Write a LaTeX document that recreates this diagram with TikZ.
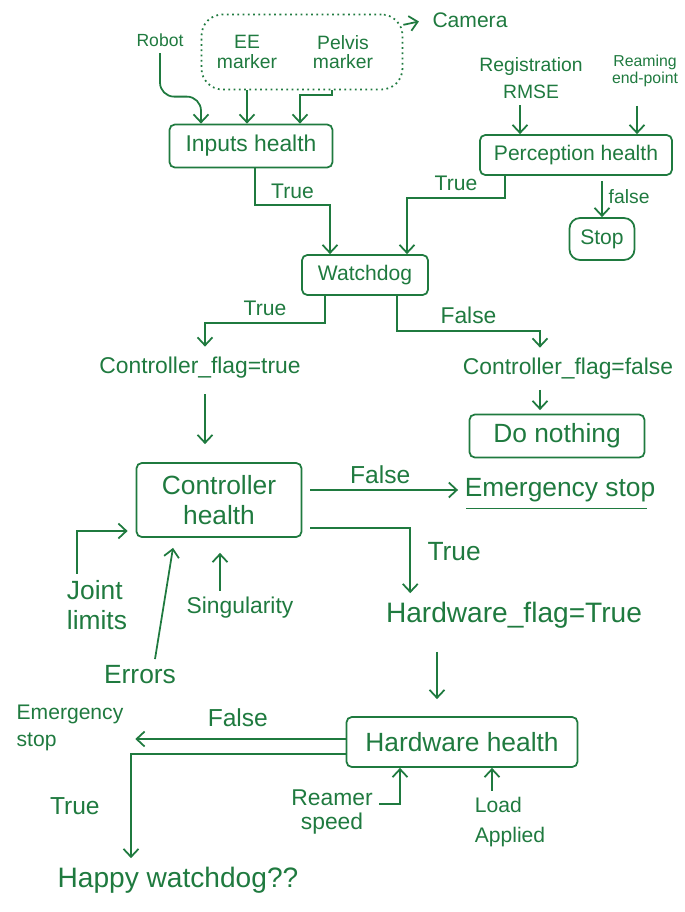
\documentclass[tikz,border=0pt]{standalone}
\usepackage{fontspec}
\setmainfont{Liberation Sans}
\usetikzlibrary{arrows.meta, positioning, calc}
\definecolor{inkgreen}{HTML}{1F7A3F}

\begin{document}
\begin{tikzpicture}[
      x=0.02cm, y=-0.02cm,
      color=inkgreen, line width=1pt,
      box/.style={draw, rounded corners=3pt, align=center},
      fs/.style 2 args={font=\fontsize{#1}{#2}\selectfont, align=center},
      >={Straight Barb[length=1.6mm, width=3mm]}
    ]
      \useasboundingbox (0,0) rectangle (685,912);

      % inputs
      \node[draw, dotted, rounded corners=12pt, minimum width=4.02cm,
        minimum height=1.5cm] (markers) at (302,52) {};
      \node[fs={11}{11}] (ee) at (247,52) {EE\\marker};
      \node[fs={11}{11}] (pelvis) at (343,52) {Pelvis\\marker};
      \node[fs={12}{14}] (camera) at (470,20) {Camera};
      \node[fs={10}{12}] (robot) at (160,40) {Robot};
      \node[box, fs={13}{15}, minimum width=3.26cm, minimum height=0.86cm]
        (inputs) at (251,146) {Inputs health};

      \node[fs={11}{15}] (regist) at (531,78) {Registration\\RMSE};
      \node[fs={9}{10}] (reaming) at (645,71) {Reaming\\end-point};
      \node[box, fs={12}{14}, minimum width=3.84cm, minimum height=0.8cm]
        (perception) at (576,155) {Perception health};
      \node[box, rounded corners=6pt, fs={12}{14}, minimum width=1.3cm,
        minimum height=0.84cm] (stop) at (602,239) {Stop};

      % watchdog
      \node[box, fs={12}{14}, minimum width=2.52cm, minimum height=0.8cm]
        (watchdog) at (365,275) {Watchdog};
      \node[fs={13}{15}] (ctrltrue) at (200,368) {Controller\_flag=true};
      \node[fs={13}{15}] (ctrlfalse) at (568,369) {Controller\_flag=false};
      \node[box, fs={15}{17}, minimum width=3.5cm, minimum height=0.86cm]
        (nothing) at (557,436) {Do nothing};

      % controller
      \node[box, fs={15}{17}, minimum width=3.3cm, minimum height=1.48cm]
        (controller) at (219,500) {Controller\\health};
      \node[fs={15}{17}] (estopa) at (560,490) {Emergency stop};
      \node[fs={16}{18}] (hwflag) at (514,615) {Hardware\_flag=True};
      \node[fs={15}{17}, align=left] (joint) at (97,605) {Joint\\limits};
      \node[fs={13}{15}] (singular) at (240,608) {Singularity};
      \node[fs={15}{17}] (errors) at (140,675) {Errors};

      % hardware
      \node[box, fs={15}{17}, minimum width=4.62cm, minimum height=1cm]
        (hardware) at (462,742) {Hardware health};
      \node[fs={12}{15}, align=left] (estopb) at (70,728) {Emergency\\stop};
      \node[fs={13}{14}] (reamer) at (332,812) {Reamer\\speed};
      \node[fs={12}{17}, align=left] (load) at (510,822) {Load\\Applied};
      \node[fs={16}{18}] (happy) at (178,880) {Happy watchdog??};

      % connectors
      \draw[->, rounded corners=8pt] (robot.south)
        |- ($(inputs.north)+(-50,-27)$) -- ($(inputs.north)+(-50,0)$);
      \draw[->] (ee |- markers.south) -- (ee |- inputs.north);
      \draw[->] ($(pelvis |- markers.south)+(-11,0)$) -- ++(0,5)
        -| ($(inputs.north)+(49,0)$);
      \draw[->, shorten >=4pt] (markers.15) -- (camera.west);
      \draw[->] ($(regist.south)+(-11,0)$) -- ($(perception.north)+(-56,0)$);
      \draw[->] ($(reaming.south)+(-8,12)$) -- ($(perception.north)+(61,0)$);
      \draw[->, shorten <=3pt] (stop.north |- perception.south)
        -- node[right, fs={11}{13}] {false} (stop.north);

      \draw[->] ($(inputs.south)+(4,0)$) -- ++(0,37)
        -| node[above, pos=0.25, fs={12}{14}] {True} ($(watchdog.north)+(-35,0)$);
      \draw[->] ($(perception.south)+(-71,0)$) -- ++(0,22)
        -| node[above, pos=0.25, fs={12}{14}] {True} ($(watchdog.north)+(42,0)$);
      \draw[->] ($(watchdog.south)+(-40,0)$) -- ++(0,27)
        -| node[above, pos=0.25, fs={12}{14}] {True} ($(ctrltrue.north)+(5,-4)$);
      \draw[->] ($(watchdog.south)+(32,0)$) -- ++(0,35)
        -| node[above, pos=0.25, fs={13}{15}] {False} ($(ctrlfalse.north)+(-28,-4)$);
      \draw[->, shorten <=0.18cm, shorten >=0.36cm]
        ($(ctrltrue.south)+(5,0)$) -- ($(controller.north)+(-14,0)$);
      \draw[->, shorten <=2pt, shorten >=2pt]
        ($(ctrlfalse.south)+(-28,0)$) -- ($(nothing.north)+(-17,0)$);

      \draw[->, shorten <=0.16cm] (controller.east |- estopa)
        -- node[above, fs={14}{16}] {False} (estopa.west);
      \draw ($(estopa.south west)+(8,0)$) -- ($(estopa.south east)+(-15,0)$);
      \draw[->, shorten <=0.16cm] ($(controller.east)+(0,28)$)
        -| node[right=6pt, pos=0.68, fs={15}{17}] {True} ($(hwflag.north west)+(31,-2)$);
      \draw[->, shorten <=0.34cm, shorten >=0.34cm]
        ($(hwflag.south)+(-77,0)$) -- ($(hardware.north)+(-25,0)$);
      \draw[->, shorten >=3pt] ($(hardware.west)+(0,-3)$)
        -- node[above=3pt, fs={14}{16}] {False} ($(hardware.west -| estopb.east)+(0,-3)$);
      \draw[->] ($(hardware.west)+(0,12)$)
        -| node[left=14pt, pos=0.75, fs={14}{16}] {True} ($(happy.north)+(-47,-2)$);
      \draw[->] ($(reamer.east)+(0,-8)$) -| ($(hardware.south)+(-62,0)$);
      \draw[->] ($(load.north)+(-18,0)$) -- ($(hardware.south)+(30,0)$);
      \draw[->] ($(joint.north)+(-20,0)$) |- ($(controller.west)+(-8,31)$);
      \draw[->] ($(errors.north)+(15,0)$) -- ($(controller.south)+(-46,10)$);
      \draw[->] ($(singular.north)+(-20,0)$) -- ($(controller.south)+(1,15)$);
    \end{tikzpicture}
\end{document}
